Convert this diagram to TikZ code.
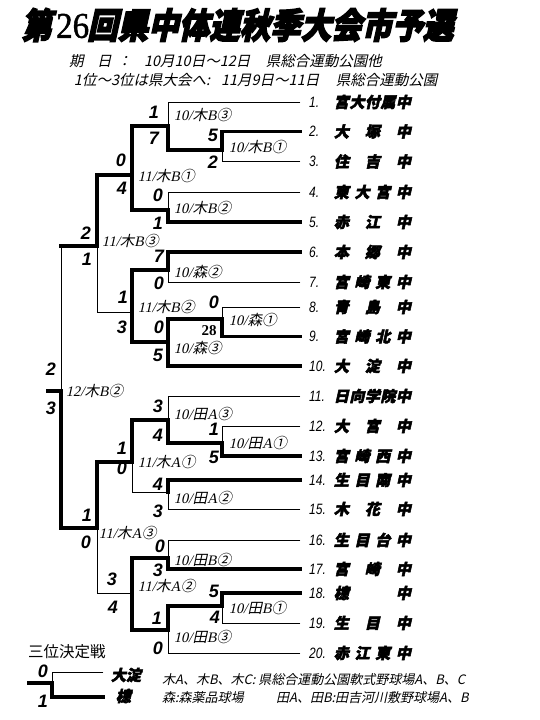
\documentclass[tikz,border=0pt]{standalone}
\usepackage{fontspec}
\setmainfont{Liberation Serif}
\newfontfamily\jp{Noto Sans CJK JP}
\newfontfamily\lsans{Liberation Sans}
\newfontfamily\lserif{Liberation Serif}
\newcommand\heavy[2]{\special{pdf:literal direct #1 w 2 Tr}#2\special{pdf:literal direct 0 Tr}}
\newcommand\ml[4]{{\lserif #1/}{\jp #2}{\lserif #3}{\jp #4}}
\newcommand\mymatch[9]{%
  \coordinate (#1) at (#2,#3);
  \coordinate (#1o) at (#4,#3);
  \draw[#7] (#5) -- (#1);
  \draw[#8] (#1) -- (#6);
  \draw[#9] (#1) -- (#1o);
}
\begin{document}
\begin{tikzpicture}[x=1pt,y=-1pt,
  thn/.style={line width=0.9pt,line cap=rect},
  thk/.style={line width=3.2pt,line cap=rect},
  it/.style={xslant=0.22},
  mlab/.style={it,font=\fontsize{14.5}{14.5}\selectfont,inner sep=0pt,anchor=west},
  score/.style={font=\lsans\bfseries\itshape\fontsize{18}{18}\selectfont,inner sep=0pt},
  teamname/.style={it,font=\jp\bfseries\fontsize{15}{15}\selectfont,inner sep=0pt,anchor=west},
  tnum/.style={xscale=0.8,font=\lsans\itshape\fontsize{15}{15}\selectfont,inner sep=0pt,anchor=west},
  sub/.style={it,font=\jp\fontsize{14.5}{14.5}\selectfont,inner sep=0pt,anchor=west},
  note/.style={it,font=\jp\fontsize{13}{13}\selectfont,inner sep=0pt,anchor=west},
  ttl/.style={it,yscale=1.15,anchor=west,inner sep=0pt,font=\jp\bfseries\fontsize{30.5}{30.5}\selectfont}]
\fill[white] (0,0) rectangle (540,720);
\path[use as bounding box] (0,0) rectangle (540,720);

% title
\node[ttl] (title1) at (24,25) {\heavy{1.3}{第}};
\node[anchor=west,inner sep=0pt,yscale=1.1,font=\lserif\fontsize{33}{33}\selectfont] (title2) at (56,26) {\heavy{0.4}{26}};
\node[ttl] (title3) at (90,25) {\heavy{1.3}{回県中体連秋季大会市予選}};
\node[sub] (s1a) at (70,61) {期};
\node[sub] (s1b) at (98,61) {日};
\node[sub] (s1c) at (118,61) {：};
\node[sub] (s1d) at (145,61) {10月10日～12日};
\node[sub] (s1e) at (267,61) {県総合運動公園他};
\node[sub] (s2a) at (75,80) {1位～3位は県大会へ:};
\node[sub] (s2b) at (222,80) {11月9日～11日};
\node[sub] (s2c) at (337,80) {県総合運動公園};

% team coordinates
\foreach \i/\x/\y in {1/168/102,2/222/131.5,3/222/161.5,4/168/192,5/168/222,6/168/252,7/168/282,8/222/307,9/222/336.5,10/168/366,11/168/396,12/222/426,13/222/456,14/168/480,15/168/509,16/168/540,17/168/569,18/222/593,19/222/623,20/168/653}
  {\coordinate (s\i) at (\x,\y); \coordinate (t\i) at (300,\y);}

\foreach \i in {1,3,4,7,8,11,12,15,16,19,20} \draw[thn] (s\i) -- (t\i);
\foreach \i in {2,5,6,9,10,13,14,17,18} \draw[thk] (s\i) -- (t\i);

% matches
\mymatch{A}{222}{150}{168}{s2}{s3}{thk}{thn}{thk}
\mymatch{B}{222}{319}{168}{s8}{s9}{thn}{thk}{thk}
\mymatch{C}{222}{443}{168}{s12}{s13}{thn}{thk}{thk}
\mymatch{D}{222}{606}{168}{s18}{s19}{thk}{thn}{thk}
\mymatch{E}{168}{126}{132}{s1}{Ao}{thn}{thk}{thk}
\mymatch{F}{168}{210}{132}{s4}{s5}{thn}{thk}{thk}
\mymatch{G}{168}{270}{132}{s6}{s7}{thk}{thn}{thk}
\mymatch{H}{168}{342}{132}{Bo}{s10}{thk}{thk}{thk}
\mymatch{I}{168}{420}{132}{s11}{Co}{thn}{thk}{thk}
\mymatch{J}{168}{492}{132}{s14}{s15}{thk}{thn}{thn}
\mymatch{K}{168}{558}{132}{s16}{s17}{thn}{thk}{thk}
\mymatch{L}{168}{630}{132}{Do}{s20}{thk}{thn}{thk}
\mymatch{M}{132}{175}{97}{Eo}{Fo}{thk}{thk}{thk}
\mymatch{N}{132}{312}{97}{Go}{Ho}{thk}{thk}{thn}
\mymatch{O}{132}{462}{97}{Io}{Jo}{thk}{thn}{thk}
\mymatch{P}{132}{593}{97}{Ko}{Lo}{thk}{thk}{thn}
\mymatch{Q}{97}{246}{61}{Mo}{No}{thk}{thn}{thk}
\mymatch{R}{97}{528}{61}{Oo}{Po}{thk}{thn}{thk}
\mymatch{Z}{61}{391}{48}{Qo}{Ro}{thn}{thk}{thk}

% team labels
\foreach \i/\nm in {1/{宮\hfill 大\hfill 付\hfill 属\hfill 中},2/{大\hfill 塚\hfill 中},3/{住\hfill 吉\hfill 中},4/{東\hfill 大\hfill 宮\hfill 中},5/{赤\hfill 江\hfill 中},6/{本\hfill 郷\hfill 中},7/{宮\hfill 崎\hfill 東\hfill 中},8/{青\hfill 島\hfill 中},9/{宮\hfill 崎\hfill 北\hfill 中},10/{大\hfill 淀\hfill 中},11/{日\hfill 向\hfill 学\hfill 院\hfill 中},12/{大\hfill 宮\hfill 中},13/{宮\hfill 崎\hfill 西\hfill 中},14/{生\hfill 目\hfill 南\hfill 中},15/{木\hfill 花\hfill 中},16/{生\hfill 目\hfill 台\hfill 中},17/{宮\hfill 崎\hfill 中},18/{檍\hfill 中},19/{生\hfill 目\hfill 中},20/{赤\hfill 江\hfill 東\hfill 中}}
{
  \node[tnum] (n\i) at ([xshift=9pt]t\i) {\i.};
  \node[teamname] (nm\i) at ([xshift=35pt]t\i) {\heavy{0.5}{\makebox[77pt][s]{\nm}}};
}

% match labels
\node[mlab] (lA) at (230,147) {\ml{10}{木}{B}{①}};
\node[mlab] (lB) at (230,320) {\ml{10}{森}{}{①}};
\node[mlab] (lC) at (230,443) {\ml{10}{田}{A}{①}};
\node[mlab] (lD) at (230,608) {\ml{10}{田}{B}{①}};
\node[mlab] (lE) at (175,115) {\ml{10}{木}{B}{③}};
\node[mlab] (lF) at (175,208) {\ml{10}{木}{B}{②}};
\node[mlab] (lG) at (175,272) {\ml{10}{森}{}{②}};
\node[mlab] (lH) at (175,348) {\ml{10}{森}{}{③}};
\node[mlab] (lI) at (175,414) {\ml{10}{田}{A}{③}};
\node[mlab] (lJ) at (175,498) {\ml{10}{田}{A}{②}};
\node[mlab] (lK) at (175,560) {\ml{10}{田}{B}{②}};
\node[mlab] (lL) at (175,637) {\ml{10}{田}{B}{③}};
\node[mlab] (lM) at (139,176) {\ml{11}{木}{B}{①}};
\node[mlab] (lN) at (139,307) {\ml{11}{木}{B}{②}};
\node[mlab] (lO) at (139,462) {\ml{11}{木}{A}{①}};
\node[mlab] (lP) at (139,586) {\ml{11}{木}{A}{②}};
\node[mlab] (lQ) at (103,241) {\ml{11}{木}{B}{③}};
\node[mlab] (lR) at (100,533) {\ml{11}{木}{A}{③}};
\node[mlab] (lZ) at (67,391) {\ml{12}{木}{B}{②}};

% scores
\foreach \x/\y/\v [count=\k] in {213/135/5,213/162/2,214/302/0,214/429/1,214/457/5,214/591/5,215/617/4,
  154/112/1,154/138/7,158/195/0,158/223/1,159/256/7,159/283/0,159/327/0,158/355/5,158/406/3,158/435/4,
  158/484/4,158/511/3,160/546/0,158/570/3,157/618/1,158/648/0,
  121/160/0,122/188/4,123/297/1,122/327/3,122/448/1,122/468/0,112/579/3,113/607/4,
  86/233/2,87/259/1,87/515/1,86/542/0,51/369/2,51/408/3,43/671/0,43/701/1}
  \node[score] (sc\k) at (\x,\y) {\v};
\node[inner sep=0pt,font=\lserif\bfseries\fontsize{15}{15}\selectfont] (sc28) at (209,331) {28};

% third place
\node[anchor=west,inner sep=0pt,font=\jp\fontsize{15.5}{15.5}\selectfont] (third) at (28,652) {三位決定戦};
\coordinate (p0) at (103,672);
\coordinate (p1) at (103,697);
\coordinate (pt) at (52,672);
\coordinate (pv) at (52,683);
\coordinate (pb) at (52,697);
\coordinate (pvo) at (29,683);
\draw[thn] (p0) -- (pt) -- (pv);
\draw[thk] (pvo) -- (pv) -- (pb) -- (p1);
\node[teamname] (tp0) at (112,675) {\heavy{0.5}{大淀}};
\node[teamname] (tp1) at (117,696) {\heavy{0.5}{檍}};

% notes
\node[note] (note1) at (163,680) {木A、木B、木C: 県総合運動公園軟式野球場A、B、C};
\node[note] (note2) at (163,698) {森:森薬品球場};
\node[note] (note3) at (277,698) {田A、田B:田吉河川敷野球場A、B};
\end{tikzpicture}
\end{document}
